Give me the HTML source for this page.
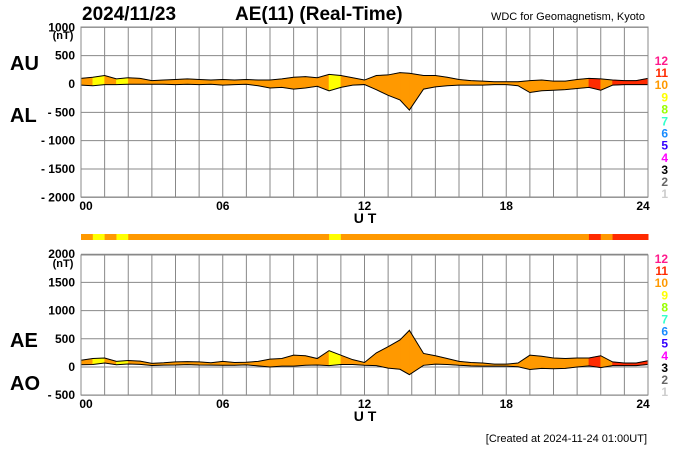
<!DOCTYPE html>
<html><head><meta charset="utf-8"><style>
body{margin:0;background:#fff;width:700px;height:450px;overflow:hidden;font-family:"Liberation Sans",sans-serif}
svg text{font-family:"Liberation Sans",sans-serif}
</style></head><body>
<svg id="c" width="700" height="450" xmlns="http://www.w3.org/2000/svg"></svg>
<script>
const hours = [0,0.5,1,1.5,2,2.5,3,3.5,4,4.5,5,5.5,6,6.5,7,7.5,8,8.5,9,9.5,10,10.5,11,11.5,12,12.5,13,13.5,13.9,14.5,15,15.5,16,16.5,17,17.5,18,18.5,19,19.5,20,20.5,21,21.5,22,22.5,23,23.5,24];
const auValues = [100,120,150,90,110,100,60,70,80,90,80,70,80,70,80,70,70,90,120,130,110,170,150,110,70,150,160,200,190,150,150,120,80,60,50,40,40,40,60,70,50,50,80,100,90,70,60,60,100];
const alValues = [-20,-30,-10,-10,-5,-5,-5,-5,-10,-5,-10,-5,-20,-10,-5,-30,-70,-60,-90,-70,-40,-120,-60,-20,-10,-100,-200,-280,-460,-90,-50,-30,-20,-20,-20,-10,-10,-30,-150,-120,-110,-100,-80,-60,-110,-20,-10,-10,-10];
const stationCounts = [10,9,10,9,10,10,10,10,10,10,10,10,10,10,10,10,10,10,10,10,10,9,10,10,10,10,10,10,10,10,10,10,10,10,10,10,10,10,10,10,10,10,10,11,10,11,11,11];
const topTicks = [1000,500,0,-500,-1000,-1500,-2000];
const topTickLabels = ["1000","500","0","- 500","- 1000","- 1500","- 2000"];
const botTicks = [2000,1500,1000,500,0,-500];
const botTickLabels = ["2000","1500","1000","500","0","- 500"];
const xTicks = [0,6,12,18,24];
const xTickLabels = ["00","06","12","18","24"];
const legendNums = ["12","11","10","9","8","7","6","5","4","3","2","1"];
const legendColors = ["#ff1a8c","#ff2a00","#ff9900","#ffff00","#99ff00","#33ffcc","#1a8cff","#3300ff","#ff00ff","#000000","#666666","#cccccc"];

const NS="http://www.w3.org/2000/svg", svg=document.getElementById('c');
function mk(t,a,p){const e=document.createElementNS(NS,t);for(const k in a)e.setAttribute(k,a[k]);(p||svg).appendChild(e);return e;}
function txt(x,y,s,sz,anchor,bold,fill){const e=mk('text',{x:x,y:y,'font-size':sz,'text-anchor':anchor||'start','font-weight':bold?'bold':'normal',fill:fill||'#000'});e.textContent=s;return e;}
const X0=81,X1=648;
const xs=h=>X0+(X1-X0)*h/24;
const ysTop=v=>84-v*28.33/500;
const ysBot=v=>367-v*28.2/500;
function colorFor(n){return legendColors[12-n];}

function panel(ys,yTop,yBot,ticks,labels,upper,lower,name){
  const g=mk('g',{});
  
  
  for(let h=0;h<=24;h++){const l=mk('line',{x1:xs(h),x2:xs(h),y1:yTop,y2:yBot,stroke:'#888','stroke-width':1},g);
    }
  ticks.forEach((v,i)=>{const y=ys(v);const l=mk('line',{x1:X0,x2:X1,y1:y,y2:y,stroke:'#888','stroke-width':1},g);
    
    const t=txt(75,y+4,labels[i],12,'end',true);
    });
  for(let i=0;i<hours.length-1;i++){
    const p=[[xs(hours[i]),ys(upper[i])],[xs(hours[i+1]),ys(upper[i+1])],[xs(hours[i+1]),ys(lower[i+1])],[xs(hours[i]),ys(lower[i])]];
    const poly=mk('polygon',{points:p.map(q=>q.join(',')).join(' '),fill:colorFor(stationCounts[i]),stroke:colorFor(stationCounts[i]),'stroke-width':0.6},g);
    
  }
  [upper,lower].forEach(arr=>{const pl=mk('polyline',{points:hours.map((h,i)=>xs(h)+','+ys(arr[i])).join(' '),fill:'none',stroke:'#000','stroke-width':1},g);
    });
  const b=mk('rect',{x:X0,y:yTop,width:X1-X0,height:yBot-yTop,fill:'none',stroke:'#888'},g);
  
  xTicks.forEach((h,i)=>{const t=txt(xs(h)+(h==0?5:h==24?-5:0),yBot+13,xTickLabels[i],12,'middle',true);
    });
  const u=txt(365,yBot+26,'U T',14,'middle',true);
  
}
panel(ysTop,27,197,topTicks,topTickLabels,auValues,alValues,'au-al');
const aeValues=auValues.map((u,i)=>u-alValues[i]);
const aoValues=auValues.map((u,i)=>(u+alValues[i])/2);
panel(ysBot,255,395,botTicks,botTickLabels,aeValues,aoValues,'ae-ao');

for(let i=0;i<stationCounts.length;i++){const r=mk('rect',{x:xs(hours[i]),y:234,width:xs(hours[i+1])-xs(hours[i])+0.5,height:6,fill:colorFor(stationCounts[i])});
  }

[61,259].forEach(y0=>legendNums.forEach((n,i)=>{const t=txt(668,y0+i*12.1+4,n,12,'end',true,legendColors[i]);
  }));

const labs=[['2024/11/23',82,20,19,'start','chart-date'],['AE(11) (Real-Time)',235,20,19,'start','chart-title'],
 ['AU',10,70,20,'start','au-label'],['AL',10,122,20,'start','al-label'],['AE',10,347,20,'start','ae-label'],['AO',10,390,20,'start','ao-label']];
labs.forEach(a=>{const t=txt(a[1],a[2],a[0],a[3],a[4],true);});
let t=txt(645,20,'WDC for Geomagnetism, Kyoto',11,'end',false);
t=txt(63,39,'(nT)',11,'middle',true);
t=txt(63,267,'(nT)',11,'middle',true);
t=txt(647,442,'[Created at 2024-11-24 01:00UT]',11,'end',false);
</script>
</body></html>
